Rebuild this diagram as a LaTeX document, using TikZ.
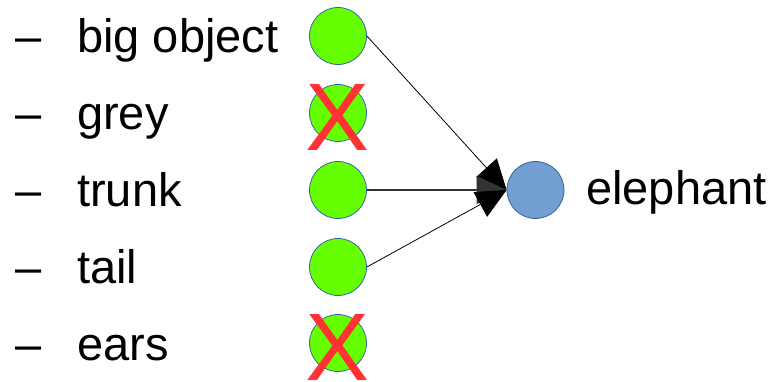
\documentclass[tikz,border=0pt]{standalone}
\usepackage{fontspec}
\setmainfont{Liberation Sans}
\usetikzlibrary{arrows.meta}
\definecolor{leafgreen}{HTML}{66FF00}
\definecolor{rimblue}{HTML}{3465A4}
\definecolor{skyblue}{HTML}{729FCF}
\definecolor{crossred}{HTML}{FF3333}
\tikzset{
  feature/.style={circle,minimum size=57pt,inner sep=0pt,fill=leafgreen,draw=rimblue,line width=0.8pt},
  target/.style={circle,minimum size=57pt,inner sep=0pt,fill=skyblue,draw=rimblue,line width=0.8pt},
  label/.style={anchor=base west,inner sep=0pt,font=\fontsize{47}{56}\selectfont},
  cross/.style={inner sep=0pt,text=crossred,font=\fontsize{96}{110}\selectfont},
  link/.style={line width=0.8pt,-{Triangle[length=30pt,width=28pt]}}
}
\begin{document}
\begin{tikzpicture}[x=1pt,y=-1pt]
\useasboundingbox (0,0) rectangle (772,382);
% labels
\node[label] (d1) at (15,53) {–};
\node[label] (t1) at (77,53) {big object};
\node[label] (d2) at (15,130) {–};
\node[label] (t2) at (77,130) {grey};
\node[label] (d3) at (15,207) {–};
\node[label] (t3) at (77,207) {trunk};
\node[label] (d4) at (15,284) {–};
\node[label] (t4) at (77,284) {tail};
\node[label] (d5) at (15,360) {–};
\node[label] (t5) at (77,360) {ears};
% feature circles
\node[feature] (c1) at (338,36) {};
\node[feature] (c2) at (338,113) {};
\node[feature] (c3) at (338,190) {};
\node[feature] (c4) at (338,267) {};
\node[feature] (c5) at (338,343) {};
% target
\node[target] (e) at (535.5,190) {};
\node[label] (te) at (586,205) {elephant};
% connectors
\draw[link] (c1.east) -- (e.west);
\draw[link,draw=black!80,line width=1.1pt] (c3.east) -- (e.west);
\draw[link] (c4.east) -- (e.west);
% crosses
\node[cross] (x2) at (338,117.5) {X};
\node[cross] (x5) at (338,347.5) {X};
\end{tikzpicture}
\end{document}
